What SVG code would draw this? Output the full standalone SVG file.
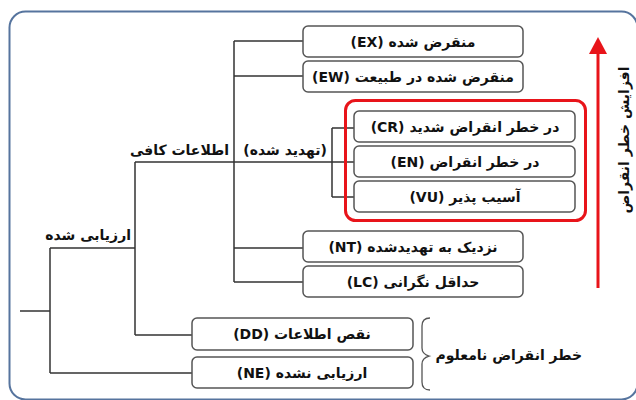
<svg xmlns="http://www.w3.org/2000/svg" width="636" height="400" viewBox="0 0 636 400">
<style>
.node rect{fill:#fff;stroke:#555;stroke-width:1.5}
.t{font-family:"DejaVu Sans",sans-serif;font-weight:bold;font-size:14px;fill:#111;text-anchor:middle;direction:rtl}
.lbl{font-family:"DejaVu Sans",sans-serif;font-weight:bold;font-size:14px;fill:#111;direction:rtl}
.c{fill:none;stroke:#333;stroke-width:1.5}
</style>
<rect x="9.5" y="11.5" width="628" height="388" rx="16" fill="none" stroke="#56749e" stroke-width="2"/>
<g id="connectors">
<path class="c" d="M20 311H50M50 248V373M50 248H135M50 373H192M135 162V335M135 335H192M135 162H332M234 41V282M234 41H303M234 76H303M234 248H303M234 282H303M332 128V197M332 128H354M332 162H354M332 197H354"/>
<path d="M430 318Q422 318 422 326V348Q422 354 429 356Q422 358 422 364V382Q422 390 430 390" fill="none" stroke="#555" stroke-width="1.3"/>
</g>
<g id="labels">
<text class="lbl" x="131" y="240" text-anchor="start">ارزیابی شده</text>
<text class="lbl" x="229" y="155" text-anchor="start">اطلاعات کافی</text>
<text class="lbl" x="327" y="155" text-anchor="start">(تهدید شده)</text>
<text class="lbl" x="582" y="360" text-anchor="start">خطر انقراض نامعلوم</text>
</g>
<g id="highlight">
<rect x="345.5" y="100.5" width="240" height="120" rx="10" fill="none" stroke="#e8141a" stroke-width="3"/>
</g>
<g id="n-EX" class="node"><rect x="303" y="26" width="220" height="31" rx="5"/><text class="t" x="413" y="47">منقرض شده (EX)</text></g>
<g id="n-EW" class="node"><rect x="303" y="61" width="220" height="31" rx="5"/><text class="t" x="413" y="82">منقرض شده در طبیعت (EW)</text></g>
<g id="n-CR" class="node"><rect x="354" y="111" width="221" height="31" rx="5"/><text class="t" x="465" y="132">در خطر انقراض شدید (CR)</text></g>
<g id="n-EN" class="node"><rect x="354" y="146" width="221" height="31" rx="5"/><text class="t" x="465" y="167">در خطر انقراض (EN)</text></g>
<g id="n-VU" class="node"><rect x="354" y="181" width="221" height="31" rx="5"/><text class="t" x="465" y="202">آسیب پذیر (VU)</text></g>
<g id="n-NT" class="node"><rect x="303" y="231" width="220" height="31" rx="5"/><text class="t" x="413" y="252">نزدیک به تهدیدشده (NT)</text></g>
<g id="n-LC" class="node"><rect x="303" y="266" width="220" height="31" rx="5"/><text class="t" x="413" y="287">حداقل نگرانی  (LC)</text></g>
<g id="n-DD" class="node"><rect x="192" y="318" width="221" height="32" rx="5"/><text class="t" x="302" y="339">نقص اطلاعات (DD)</text></g>
<g id="n-NE" class="node"><rect x="192" y="357" width="221" height="31" rx="5"/><text class="t" x="302" y="378">ارزیابی نشده (NE)</text></g>
<g id="axis">
<line x1="598" y1="50" x2="598" y2="288" stroke="#e8141a" stroke-width="3"/>
<polygon points="598,37 607,54 589,54" fill="#e8141a"/>
<text class="lbl" transform="translate(629,140) rotate(-90)" text-anchor="middle">افزایش خطر انقراض</text>
</g>
</svg>
